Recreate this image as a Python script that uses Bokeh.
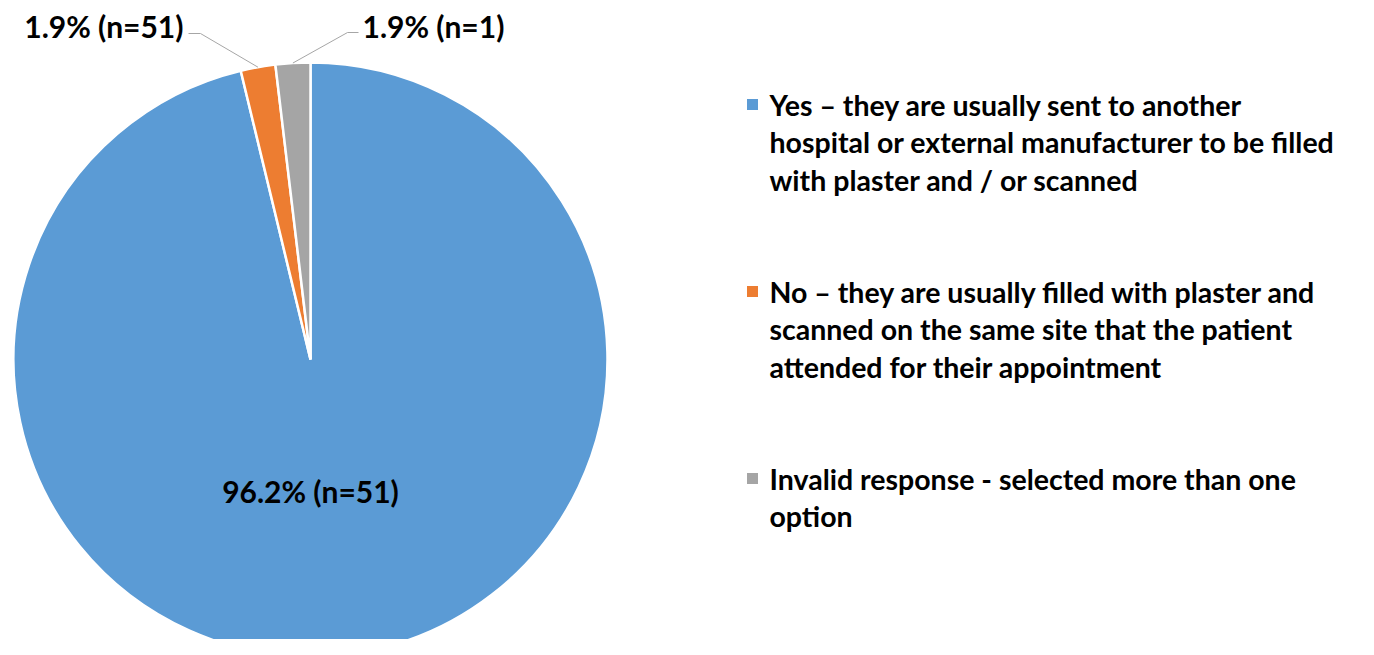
import math
from bokeh.plotting import figure
from bokeh.models import Range1d, ColumnDataSource
from bokeh.core.properties import value
from bokeh.embed import file_html
from bokeh.resources import INLINE

# ---- data ----
categories = [
    "Yes \u2013 they are usually sent to another\nhospital or external manufacturer to be filled\nwith plaster and / or scanned",
    "No \u2013 they are usually filled with plaster and\nscanned on the same site that the patient\nattended for their appointment",
    "Invalid response - selected more than one\noption",
]
counts = [51, 1, 1]
percent_labels = ["96.2% (n=51)", "1.9% (n=51)", "1.9% (n=1)"]
colors = ["#5B9BD5", "#ED7D31", "#A5A5A5"]

# ---- layout (image pixel coords, y down) ----
W, H = 1358, 639
FONT = "Lato"
FS = "30px"
LFS = "28.5px"

def Y(v):
    return 655 - v

cx, cy, R = 310, 359, 297

p = figure(width=W, height=H, x_range=Range1d(0, W), y_range=Range1d(655 - H, 655),
           output_backend="svg", toolbar_location=None, min_border=0)
p.axis.visible = False
p.grid.visible = False
p.outline_line_color = None
p.background_fill_color = "white"
p.border_fill_color = "white"

total = sum(counts)
fracs = [c / total for c in counts]
starts, ends = [], []
a = math.pi / 2
for f in fracs:
    starts.append(a)
    a = a - f * 2 * math.pi
    ends.append(a)

src = ColumnDataSource(dict(start=starts, end=ends, color=colors))
p.wedge(x=cx, y=Y(cy), radius=R, start_angle="start", end_angle="end", direction="clock",
        fill_color="color", line_color="white", line_width=2.5, source=src)

# main label
p.text(x=[cx], y=[Y(cy + 131)], text=[percent_labels[0]], text_font=value(FONT),
       text_font_style="bold", text_font_size=FS, text_align="center", text_baseline="middle",
       text_color="#000000")

# small slice labels with leader lines: (elbow x, elbow y, line end x, text x, text y, align)
leaders = {1: (200, 33, 188, 183, 25, "right"), 2: (347, 32, 358, 362, 25, "left")}
for i, (ex, ey, endx, tx, ty, align) in leaders.items():
    mid = (starts[i] + ends[i]) / 2
    px = cx + R * math.cos(mid)
    py = Y(cy) + R * math.sin(mid)
    p.line(x=[px, ex, endx], y=[py, Y(ey), Y(ey)], line_color="#A6A6A6", line_width=1)
    p.text(x=[tx], y=[Y(ty)], text=[percent_labels[i]],
           text_font=value(FONT), text_font_style="bold", text_font_size=FS,
           text_align=align, text_baseline="middle", text_color="#000000")

# legend
group_top = [104, 291, 478]
line_gap = 37.5
mx, tx0, msz = 752, 769, 11
for i, cat in enumerate(categories):
    lines = cat.split("\n")
    p.rect(x=[mx], y=[Y(group_top[i])], width=msz, height=msz, fill_color=colors[i], line_color=None)
    ys = [Y(group_top[i] + k * line_gap) for k in range(len(lines))]
    p.text(x=[tx0] * len(lines), y=ys, text=lines, text_font=value(FONT), text_font_style="bold",
           text_font_size=LFS, text_align="left", text_baseline="middle", text_color="#000000")

open("out.html", "w").write(file_html(p, INLINE))
